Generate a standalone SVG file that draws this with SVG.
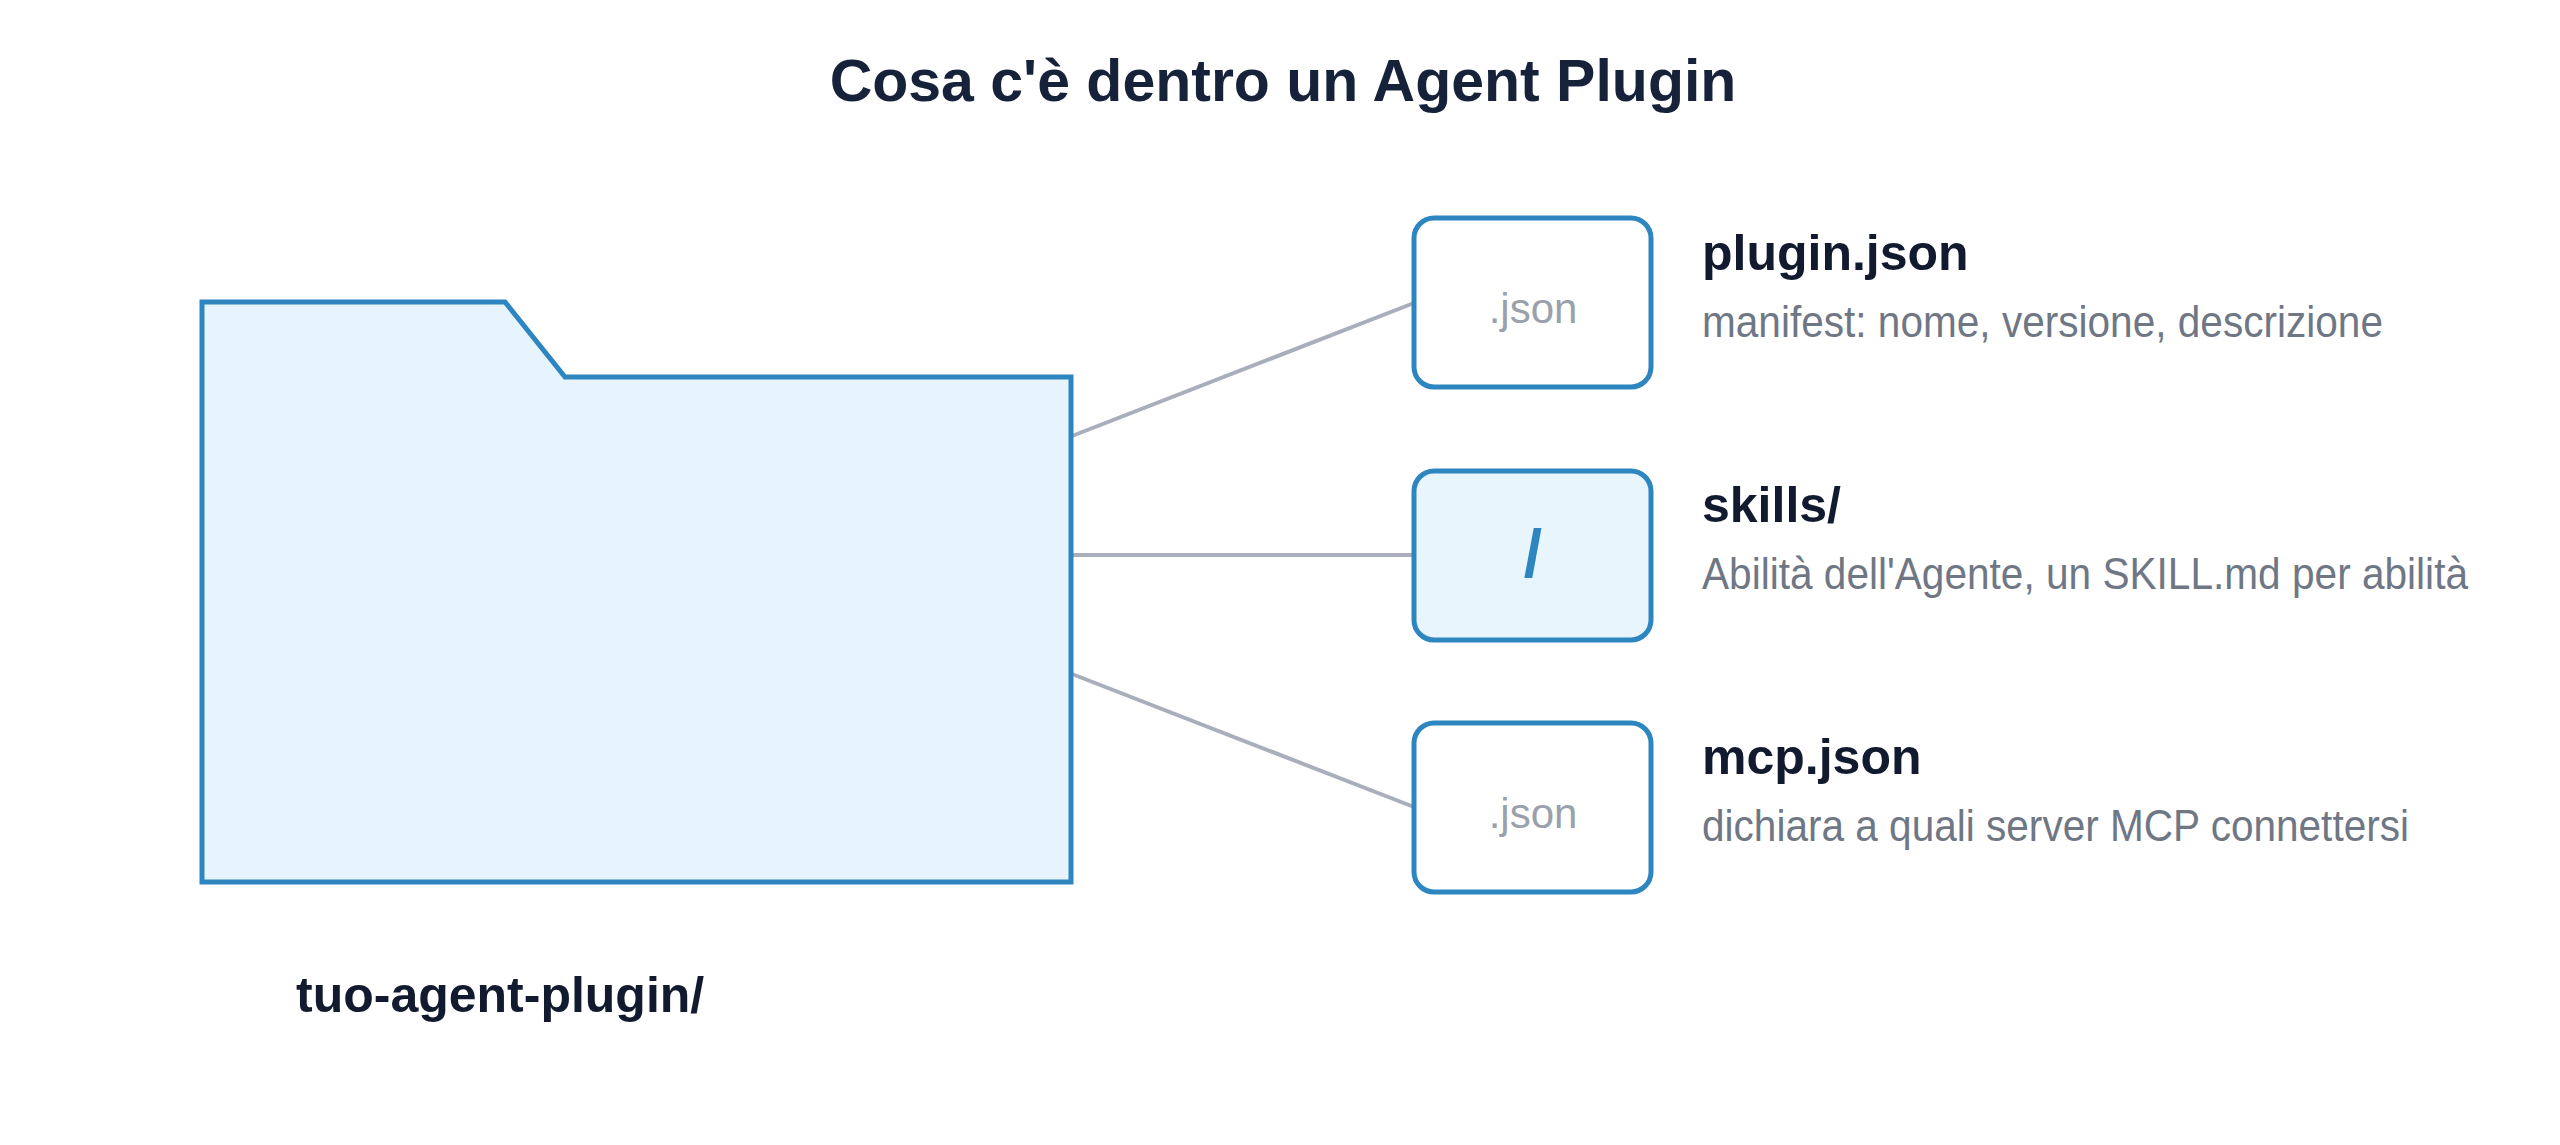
<svg xmlns="http://www.w3.org/2000/svg" width="2560" height="1145" viewBox="0 0 2560 1145">
<style>
.title{font-family:"Liberation Sans",Arial,sans-serif;font-weight:bold;font-size:59px;fill:#16213a}
.label{font-family:"Liberation Sans",Arial,sans-serif;font-weight:bold;font-size:50px;fill:#111a2e}
.desc{font-family:"Liberation Sans",Arial,sans-serif;font-size:44px;fill:#6f7785}
.ext{font-family:"Liberation Sans",Arial,sans-serif;font-size:42px;fill:#9aa1ad}
.slash{font-family:"Liberation Sans",Arial,sans-serif;font-weight:bold;font-size:66px;fill:#2e86c1}
.box{fill:#ffffff;stroke:#2e86c1;stroke-width:5}
.boxdir{fill:#e9f5fd;stroke:#2e86c1;stroke-width:5}
.conn{stroke:#a9aebb;stroke-width:4;fill:none}
</style>
<rect x="0" y="0" width="2560" height="1145" fill="#ffffff"/>
<text class="title" x="1283" y="101" text-anchor="middle">Cosa c'è dentro un Agent Plugin</text>
<g id="connectors">
<line class="conn" x1="1072" y1="436" x2="1414" y2="303"/>
<line class="conn" x1="1072" y1="555" x2="1414" y2="555"/>
<line class="conn" x1="1072" y1="674" x2="1414" y2="807"/>
</g>
<g id="folder">
<path d="M202,302 L505,302 L565,377 L1071,377 L1071,882 L202,882 Z" fill="#e8f4fd" stroke="#2e86c1" stroke-width="5" stroke-linejoin="miter"/>
<text class="label" x="296" y="1012">tuo-agent-plugin/</text>
</g>
<g id="plugin-json">
<rect class="box" x="1414" y="218" width="237" height="169" rx="20"/>
<text class="ext" x="1533" y="323" text-anchor="middle">.json</text>
<text class="label" x="1702" y="270">plugin.json</text>
<text class="desc" x="1702" y="337" textLength="681" lengthAdjust="spacingAndGlyphs">manifest: nome, versione, descrizione</text>
</g>
<g id="skills">
<rect class="boxdir" x="1414" y="471" width="237" height="169" rx="20"/>
<text class="slash" x="1533" y="576" text-anchor="middle">/</text>
<text class="label" x="1702" y="522">skills/</text>
<text class="desc" x="1702" y="589" textLength="766" lengthAdjust="spacingAndGlyphs">Abilità dell'Agente, un SKILL.md per abilità</text>
</g>
<g id="mcp-json">
<rect class="box" x="1414" y="723" width="237" height="169" rx="20"/>
<text class="ext" x="1533" y="828" text-anchor="middle">.json</text>
<text class="label" x="1702" y="774">mcp.json</text>
<text class="desc" x="1702" y="841" textLength="707" lengthAdjust="spacingAndGlyphs">dichiara a quali server MCP connettersi</text>
</g>
</svg>
